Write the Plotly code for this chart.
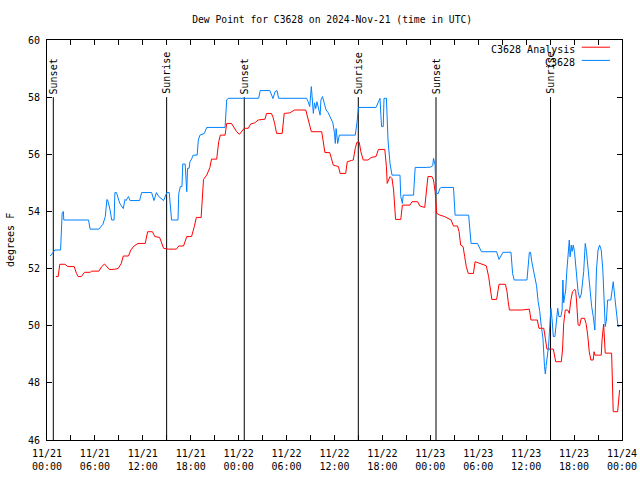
import pandas as pd
import plotly.graph_objects as go

start = pd.Timestamp("2024-11-21 00:00")

# C3628 observations: hours since 11/21 00:00 UTC, dew point (F)
obs_hours = [0.4, 1.0, 1.7, 1.9, 2.05, 2.1, 5.2, 5.4, 6.5, 7.0, 7.3, 7.5, 7.6, 7.9, 8.1, 8.4, 8.5, 8.7, 9.1, 9.55,
             9.77, 9.9, 10.2, 10.4, 11.6, 11.85, 13.1, 13.4, 13.7, 14.0, 14.6, 15.0, 15.3, 15.5, 15.6, 16.4, 16.5,
             16.7, 16.9, 17.0, 17.3, 17.5, 17.6, 17.8, 17.9, 18.1, 18.3, 18.8, 18.95, 19.15, 19.7, 20.0, 22.3, 22.5,
             22.7, 26.5, 26.7, 27.9, 28.1, 28.3, 28.55, 28.8, 29.0, 32.5, 32.7, 32.9, 33.1, 33.2, 33.35, 33.5, 33.65,
             33.8, 34.0, 34.2, 34.3, 34.5, 34.8, 34.95, 35.2, 35.4, 35.6, 35.8, 36.0, 36.1, 36.2, 36.4, 36.6, 38.6,
             38.8, 39.0, 41.2, 41.5, 41.7, 41.8, 41.9, 42.1, 42.2, 42.5, 42.6, 42.7, 42.95, 43.2, 44.2, 44.3, 44.5,
             44.6, 45.9, 46.1, 47.5, 48.0, 48.3, 48.4, 48.6, 48.7, 49.0, 49.2, 49.4, 50.9, 51.1, 52.8, 53.1, 53.9,
             54.4, 56.3, 56.6, 56.85, 57.1, 58.1, 58.3, 58.5, 60.1, 60.4, 60.55, 60.7, 60.9, 61.1, 61.3, 61.5, 61.7,
             61.9, 62.1, 62.3, 62.4, 62.5, 62.8, 63.0, 63.1, 63.25, 63.4, 63.6, 63.8, 63.95, 64.1, 64.35, 64.5, 64.6,
             64.7, 64.95, 65.1, 65.3, 65.4, 65.5, 65.65, 65.75, 65.9, 66.05, 66.3, 66.5, 66.7, 66.9, 67.2, 67.4,
             67.55, 67.75, 68.0, 68.2, 68.4, 68.6, 68.8, 69.0, 69.2, 69.4, 69.6, 69.75, 69.9, 70.05, 70.2, 70.6,
             70.8, 70.9, 71.1, 71.3, 71.5, 71.8]
obs_values = [52.44, 52.65, 52.65, 53.95, 54.0, 53.7, 53.7, 53.38, 53.38, 53.55, 53.82, 54.42, 54.4, 54.05, 53.7,
              53.7, 54.66, 54.66, 54.29, 54.1, 54.42, 54.38, 54.52, 54.38, 54.38, 54.66, 54.66, 54.38, 54.66, 54.52,
              54.38, 54.66, 54.66, 53.93, 53.7, 53.7, 54.63, 54.87, 54.87, 55.66, 55.66, 54.69, 55.51, 55.51, 55.74,
              55.83, 55.97, 55.97, 56.5, 56.67, 56.73, 56.94, 56.94, 57.9, 57.96, 57.96, 58.23, 58.23, 58.07, 57.95,
              58.19, 58.23, 57.96, 57.96, 57.84, 57.67, 58.37, 57.9, 57.43, 57.8, 57.6, 57.84, 57.6, 57.37, 57.9,
              58.02, 57.7, 57.55, 57.46, 57.35, 57.22, 57.1, 56.73, 56.38, 56.9, 56.38, 56.67, 56.67, 57.08, 57.64,
              57.64, 57.84, 57.96, 57.4, 56.97, 56.97, 57.96, 57.96, 57.4, 56.5, 55.68, 55.27, 55.27, 54.52, 54.28,
              54.57, 54.57, 55.54, 55.54, 55.55, 55.6, 55.86, 55.62, 54.63, 54.63, 54.81, 54.84, 54.84, 53.87, 53.87,
              52.88, 52.88, 52.59, 52.59, 52.32, 52.45, 52.57, 52.57, 51.83, 51.6, 51.6, 52.57, 52.57, 52.24, 51.95,
              51.62, 51.4, 50.84, 50.5, 49.97, 49.56, 48.57, 48.31, 48.6, 49.27, 50.2, 50.61, 50.2, 49.62, 49.62,
              50.34, 50.61, 50.32, 50.32, 50.55, 51.6, 50.8, 51.25, 51.95, 52.65, 53.0, 52.41, 52.82, 52.6, 52.82,
              52.6, 51.95, 51.19, 50.96, 51.1, 51.89, 52.88, 52.6, 51.95, 51.37, 50.67, 50.32, 49.85, 51.95, 52.65,
              52.82, 52.65, 51.95, 50.6, 49.97, 50.2, 50.9, 50.9, 51.25, 51.54, 51.0, 50.43, 49.97, 50.0]

# C3628 Analysis
ana_hours = [1.1, 1.4, 1.6, 2.25, 2.6, 3.4, 3.7, 3.9, 4.3, 4.7, 5.4, 5.6, 6.5, 6.85, 7.2, 7.5, 7.8, 8.3, 8.9, 9.3,
             9.55, 10.2, 10.5, 10.9, 11.4, 12.3, 12.6, 13.2, 13.5, 14.1, 14.6, 15.2, 16.2, 16.5, 17.1, 17.5, 18.1,
             18.45, 18.7, 19.3, 19.45, 19.6, 20.0, 20.4, 20.6, 21.25, 21.5, 21.7, 22.3, 22.5, 23.1, 23.4, 23.75,
             24.1, 24.4, 24.7, 25.2, 25.5, 26.0, 26.45, 27.3, 27.5, 28.1, 28.3, 28.5, 28.75, 29.45, 29.7, 30.4,
             31.0, 32.4, 32.7, 32.9, 33.1, 34.4, 34.6, 34.8, 35.4, 35.65, 35.85, 36.5, 36.7, 37.4, 37.6, 38.1,
             38.35, 38.6, 38.8, 39.1, 39.3, 39.6, 40.2, 40.6, 41.2, 41.5, 42.3, 42.5, 42.6, 42.95, 43.2, 43.4,
             43.5, 43.65, 44.3, 44.5, 45.45, 45.7, 46.4, 46.7, 47.3, 47.5, 47.7, 48.2, 48.4, 48.6, 48.7, 48.8,
             49.2, 49.8, 50.6, 50.9, 51.4, 51.6, 51.8, 52.1, 52.3, 52.5, 52.75, 53.4, 53.6, 54.2, 55.0, 55.3,
             55.5, 55.7, 56.3, 56.6, 57.4, 57.6, 57.75, 57.9, 59.5, 60.4, 60.6, 61.4, 61.6, 62.2, 62.4, 62.6,
             63.4, 63.5, 63.7, 64.4, 64.55, 64.7, 64.9, 65.2, 65.4, 65.6, 65.8, 66.1, 66.2, 66.3, 66.5, 66.7,
             66.9, 67.3, 67.5, 67.7, 67.9, 68.1, 68.4, 68.5, 68.6, 69.4, 69.5, 69.7, 69.8, 69.9, 70.7, 70.8,
             70.9, 71.45, 71.6, 71.7]
ana_values = [51.72, 51.72, 52.15, 52.15, 52.07, 52.07, 51.83, 51.72, 51.72, 51.87, 51.87, 51.91, 51.91, 52.07,
              52.16, 52.07, 51.97, 51.97, 52.0, 52.18, 52.44, 52.44, 52.65, 52.79, 52.88, 52.88, 53.29, 53.29,
              53.12, 53.09, 52.71, 52.68, 52.68, 52.79, 52.79, 53.12, 53.12, 53.47, 53.79, 53.79, 54.63, 55.12,
              55.27, 55.54, 55.83, 55.83, 56.44, 56.67, 56.67, 57.08, 57.08, 56.95, 56.79, 56.70, 56.79, 56.91,
              56.91, 57.06, 57.1, 57.2, 57.23, 57.43, 57.43, 57.3, 57.08, 56.73, 56.73, 57.43, 57.45, 57.55, 57.55,
              57.26, 57.0, 56.79, 56.79, 56.38, 56.06, 56.06, 55.86, 55.62, 55.57, 55.33, 55.33, 55.74, 55.78,
              55.8, 56.21, 56.42, 56.42, 56.09, 55.8, 55.8, 55.89, 55.92, 56.17, 56.17, 55.57, 54.98, 55.22,
              55.15, 54.75, 54.17, 53.72, 53.72, 54.22, 54.22, 54.34, 54.34, 54.19, 54.14, 54.75, 55.22, 55.22,
              55.1, 54.69, 54.4, 53.93, 53.87, 53.82, 53.7, 53.49, 53.49, 53.29, 52.82, 52.77, 52.42, 52.07,
              51.83, 51.83, 52.24, 52.18, 52.1, 51.72, 51.25, 50.92, 50.92, 51.45, 51.45, 51.2, 50.84, 50.55,
              50.55, 50.58, 50.2, 50.2, 49.91, 49.91, 49.56, 49.18, 49.18, 48.97, 48.74, 48.74, 49.15, 50.08,
              50.55, 50.55, 50.43, 50.9, 51.19, 51.27, 51.2, 50.9, 50.03, 50.0, 50.26, 50.26, 50.08, 49.68,
              49.09, 48.8, 48.8, 49.09, 48.97, 48.97, 49.5, 50.06, 49.62, 49.04, 49.04, 47.87, 46.99, 46.99,
              47.51, 47.75]

# Sun events
event_hours = [0.79, 14.98, 24.7, 38.98, 48.71, 63.05]
event_labels = ["Sunset", "Sunrise", "Sunset", "Sunrise", "Sunset", "Sunrise"]

y_ticks = [46, 48, 50, 52, 54, 56, 58, 60]


def to_time(hours):
    return [start + pd.Timedelta(hours=h) for h in hours]


FONT = "DejaVu Sans Mono"

fig = go.Figure()
for t in to_time(event_hours):
    fig.add_trace(go.Scatter(x=[t, t], y=[46, 58], mode="lines",
                             line=dict(color="black", width=1), showlegend=False, hoverinfo="skip"))
fig.add_trace(go.Scatter(x=to_time(ana_hours), y=ana_values, mode="lines", name="C3628 Analysis",
                         line=dict(color="#ff0000", width=1), showlegend=False))
fig.add_trace(go.Scatter(x=to_time(obs_hours), y=obs_values, mode="lines", name="C3628",
                         line=dict(color="#0080ff", width=1), showlegend=False))

for t, lab in zip(to_time(event_hours), event_labels):
    fig.add_annotation(x=t, y=58, xref="x", yref="y", text=lab, textangle=-90, showarrow=False,
                       xanchor="center", yanchor="bottom", yshift=1, xshift=0,
                       font=dict(family=FONT, size=10, color="black"))

# legend (gnuplot style: text then line sample)
for i, (name, col) in enumerate([("C3628 Analysis", "#ff0000"), ("C3628", "#0080ff")]):
    yp = 0.976 - i * 0.033
    fig.add_annotation(x=0.921, y=yp, xref="paper", yref="paper", text=name, showarrow=False,
                       xanchor="right", yanchor="middle", font=dict(family=FONT, size=10, color="black"))
    fig.add_shape(type="line", xref="paper", yref="paper", x0=0.93, x1=0.979, y0=yp + 0.006, y1=yp + 0.006,
                  line=dict(color=col, width=1))

# y-axis title
fig.add_annotation(x=0, y=0.5, xref="paper", yref="paper", text="degrees F", textangle=-90, showarrow=False,
                   xanchor="center", yanchor="middle", xshift=-37, font=dict(family=FONT, size=10, color="black"))

tick_vals = to_time(list(range(0, 73, 3)))
tick_text = []
for h in range(0, 73, 3):
    if h % 6 == 0:
        ts = start + pd.Timedelta(hours=h)
        tick_text.append(ts.strftime("%m/%d") + "<br>" + ts.strftime("%H:%M"))
    else:
        tick_text.append("")

fig.update_layout(
    width=640, height=480,
    margin=dict(l=47, r=18, t=40, b=40),
    paper_bgcolor="white", plot_bgcolor="white",
    font=dict(family=FONT, size=10, color="black"),
    title=dict(text="Dew Point for C3628 on 2024-Nov-21 (time in UTC)", x=0.519, xanchor="center",
               y=0.96, yanchor="middle", font=dict(family=FONT, size=9.7, color="black")),
    xaxis=dict(range=[start, start + pd.Timedelta(hours=72)], tickvals=tick_vals, ticktext=tick_text,
               ticks="inside", ticklen=5, tickcolor="black", showline=True, linecolor="black", linewidth=1,
               mirror="allticks", showgrid=False, zeroline=False, automargin=False, ticklabelstandoff=4,
               ticklabeloverflow="allow", tickfont=dict(family=FONT, size=10)),
    yaxis=dict(range=[46, 60], tickvals=y_ticks, ticks="inside", ticklen=5, tickcolor="black",
               showline=True, linecolor="black", linewidth=1, mirror="allticks", showgrid=False,
               zeroline=False, automargin=False, ticklabelstandoff=4,
               tickfont=dict(family=FONT, size=10)),
)

fig.write_html("out.html", config={"displayModeBar": False, "staticPlot": True},
               post_script="document.body.style.margin='0';document.body.style.overflow='hidden';")
